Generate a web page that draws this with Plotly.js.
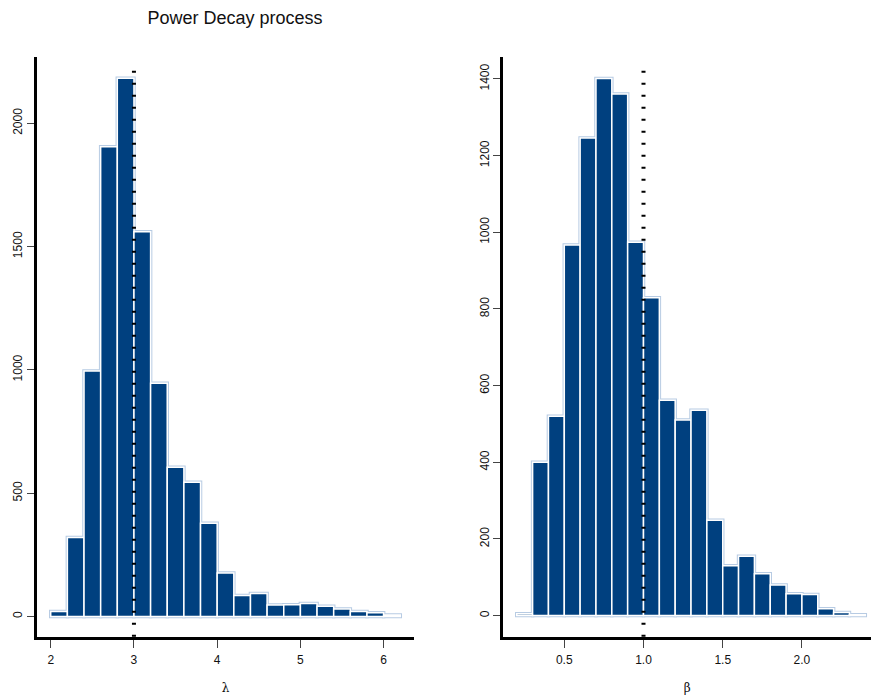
<!DOCTYPE html>
<html>
<head>
<meta charset="utf-8">
<script src="https://cdn.plot.ly/plotly-3.0.1.min.js"></script>
<style>html,body{margin:0;padding:0;background:#fff;}#chart{width:871px;height:700px;}</style>
</head>
<body>
<div id="chart"></div>
<script>
// Left panel: lambda histogram (bin left edges, width 0.2)
const lambdaBins = [2.0, 2.2, 2.4, 2.6, 2.8, 3.0, 3.2, 3.4, 3.6, 3.8, 4.0, 4.2, 4.4, 4.6, 4.8, 5.0, 5.2, 5.4, 5.6, 5.8, 6.0];
const lambdaCounts = [20, 320, 995, 1905, 2183, 1560, 946, 605, 544, 378, 176, 85, 93, 47, 48, 53, 41, 30, 20, 15, 6];
const lambdaBinWidth = 0.2;
const lambdaTrue = 3;

// Right panel: beta histogram (bin left edges, width 0.1)
const betaBins = [0.2, 0.3, 0.4, 0.5, 0.6, 0.7, 0.8, 0.9, 1.0, 1.1, 1.2, 1.3, 1.4, 1.5, 1.6, 1.7, 1.8, 1.9, 2.0, 2.1, 2.2, 2.3];
const betaCounts = [5, 400, 520, 967, 1246, 1401, 1361, 974, 829, 562, 510, 536, 249, 130, 155, 109, 80, 57, 55, 18, 8, 2];
const betaBinWidth = 0.1;
const betaTrue = 1;

const lambdaTicks = [2, 3, 4, 5, 6];
const lambdaYTicks = [0, 500, 1000, 1500, 2000];
const betaTicks = [0.5, 1.0, 1.5, 2.0];
const betaTickText = ["0.5", "1.0", "1.5", "2.0"];
const betaYTicks = [0, 200, 400, 600, 800, 1000, 1200, 1400];

const fill = '#00407f';
const outline = '#b7cbe3';
const W = 871, H = 700;

function bars(x, y, w, xa, ya, lineColor, lineWidth) {
  return {
    type: 'bar', x: x, y: y, width: w, offset: 0,
    xaxis: xa, yaxis: ya,
    marker: {color: fill, line: {color: lineColor, width: lineWidth}},
    hoverinfo: 'x+y', showlegend: false
  };
}

const data = [
  bars(lambdaBins, lambdaCounts, lambdaBinWidth, 'x', 'y', outline, 3.5),
  bars(lambdaBins, lambdaCounts, lambdaBinWidth, 'x', 'y', '#ffffff', 1.5),
  bars(betaBins, betaCounts, betaBinWidth, 'x2', 'y2', outline, 3.5),
  bars(betaBins, betaCounts, betaBinWidth, 'x2', 'y2', '#ffffff', 1.5)
];

const tickFont = {family: 'Liberation Sans, Arial, sans-serif', size: 12, color: '#111'};
const yDom = [(H - 636.7) / H, (H - 56.7) / H];

function xAxis(domain, range, tickvals, ticktext, title, anchor) {
  return {
    domain: domain, range: range, anchor: anchor,
    showline: true, linecolor: '#000', linewidth: 3,
    showgrid: false, zeroline: false,
    ticks: 'outside', ticklen: 8, tickwidth: 1, tickcolor: '#444',
    ticklabelstandoff: 2,
    tickvals: tickvals, ticktext: ticktext, tickfont: tickFont,
    title: {text: title, font: {family: 'DejaVu Serif, serif', size: 12, color: '#111'}, standoff: 18},
    fixedrange: true
  };
}
function yAxis(range, tickvals, anchor) {
  return {
    domain: yDom, range: range, anchor: anchor,
    showline: true, linecolor: '#000', linewidth: 3,
    showgrid: false, zeroline: false,
    ticks: 'outside', ticklen: 7, tickwidth: 1, tickcolor: '#444',
    tickvals: tickvals, tickangle: -90, tickfont: tickFont,
    fixedrange: true
  };
}

const layout = {
  width: W, height: H,
  margin: {l: 0, r: 0, t: 0, b: 0},
  paper_bgcolor: '#fff', plot_bgcolor: '#fff',
  barmode: 'overlay', bargap: 0,
  title: {
    text: 'Power Decay process',
    font: {family: 'Liberation Sans, Arial, sans-serif', size: 18, color: '#111'},
    x: 235 / W, xref: 'paper', xanchor: 'center',
    y: 1 - 18 / H, yref: 'paper', yanchor: 'middle'
  },
  xaxis: xAxis([37 / W, 414 / W], [1.835, 6.365], lambdaTicks, lambdaTicks.map(String), 'λ', 'y'),
  yaxis: yAxis([-82, 2270], lambdaYTicks, 'x'),
  xaxis2: xAxis([503.3 / W, 1], [0.115, 2.436], betaTicks, betaTickText, 'β', 'y2'),
  yaxis2: yAxis([-55, 1458], betaYTicks, 'x2'),
  shapes: [
    {type: 'line', xref: 'x', yref: 'y domain', x0: lambdaTrue, x1: lambdaTrue, y0: 0, y1: 0.986,
     line: {color: '#000', width: 4, dash: '2px,10px'}},
    {type: 'line', xref: 'x2', yref: 'y2 domain', x0: betaTrue, x1: betaTrue, y0: 0, y1: 0.986,
     line: {color: '#000', width: 4, dash: '2px,10px'}}
  ]
};

Plotly.newPlot('chart', data, layout, {displayModeBar: false, staticPlot: true});
</script>
</body>
</html>
